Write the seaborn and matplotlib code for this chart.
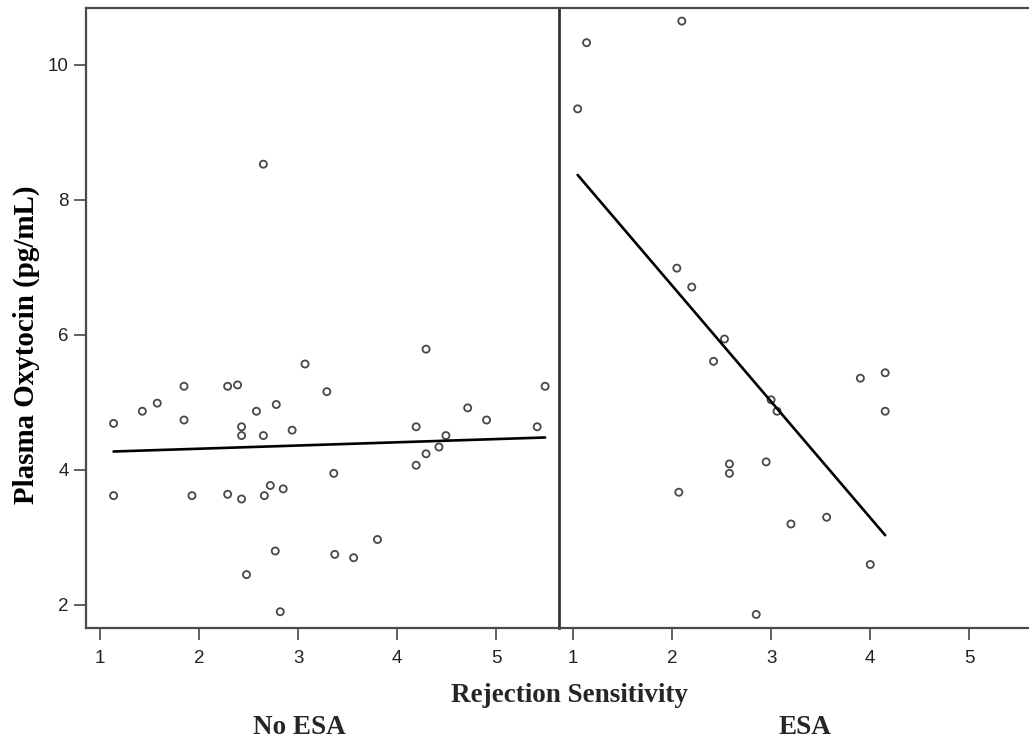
import numpy as np
import pandas as pd
import matplotlib
matplotlib.use("Agg")
import matplotlib.pyplot as plt
import seaborn as sns
from matplotlib import font_manager

# ---- data ----
no_esa_rs = [1.14, 1.14, 1.43, 1.58, 1.85, 1.85, 1.93, 2.29, 2.39, 2.29,
             2.43, 2.43, 2.43, 2.58, 2.65, 2.66, 2.72, 2.78, 2.85, 2.77,
             2.48, 2.82, 2.94, 3.07, 3.29, 3.36, 3.37, 3.56, 3.80, 4.19,
             4.19, 4.29, 4.29, 4.42, 4.49, 4.71, 4.90, 5.41, 5.49, 2.65]
no_esa_ot = [4.69, 3.62, 4.87, 4.99, 5.24, 4.74, 3.62, 5.24, 5.26, 3.64,
             4.64, 4.51, 3.57, 4.87, 4.51, 3.62, 3.77, 4.97, 3.72, 2.80,
             2.45, 1.90, 4.59, 5.57, 5.16, 3.95, 2.75, 2.70, 2.97, 4.64,
             4.07, 5.79, 4.24, 4.34, 4.51, 4.92, 4.74, 4.64, 5.24, 8.53]

esa_rs = [2.10, 1.14, 1.05, 2.05, 2.20, 2.53, 2.42, 3.00, 3.06, 3.90,
          4.15, 4.15, 2.58, 2.58, 2.95, 2.07, 3.20, 3.56, 4.00, 2.85]
esa_ot = [10.65, 10.33, 9.35, 6.99, 6.71, 5.94, 5.61, 5.04, 4.87, 5.36,
          5.44, 4.87, 4.09, 3.95, 4.12, 3.67, 3.20, 3.30, 2.60, 1.86]

groups = ["No ESA", "ESA"]
x_ticks = [1, 2, 3, 4, 5]
y_ticks = [2, 4, 6, 8, 10]

df = pd.DataFrame({
    "Rejection Sensitivity": no_esa_rs + esa_rs,
    "Plasma Oxytocin": no_esa_ot + esa_ot,
    "Group": [groups[0]] * len(no_esa_rs) + [groups[1]] * len(esa_rs),
})

sns.set_theme(style="white")
installed = {f.name for f in font_manager.fontManager.ttflist}
tick_family = "Liberation Sans Narrow" if "Liberation Sans Narrow" in installed else "Liberation Sans"
tick_size = 15.5 if tick_family == "Liberation Sans Narrow" else 13.5
plt.rcParams["font.family"] = [tick_family, "DejaVu Sans"]

W, H = 1029, 743
fig = plt.figure(figsize=(W / 100, H / 100), dpi=100)

bottom = 1 - 628 / H
top = 1 - 8 / H
ax_w = 472 / W
axL = fig.add_axes([86 / W, bottom, ax_w, top - bottom])
axR = fig.add_axes([559 / W, bottom, ax_w, top - bottom])

spine_col = "#4a4a4a"
for ax, g in zip([axL, axR], groups):
    sub = df[df["Group"] == g]
    sns.regplot(data=sub, x="Rejection Sensitivity", y="Plasma Oxytocin",
                ax=ax, ci=None, truncate=True,
                scatter_kws=dict(s=26, facecolors="none", edgecolors="#1a1a1a",
                                 linewidths=1.3, marker="o"),
                line_kws=dict(color="black", linewidth=1.9))
    ax.set_xlim(0.862, 5.62)
    ax.set_ylim(1.659, 10.844)
    ax.set_xlabel("")
    ax.set_ylabel("")
    ax.set_xticks(x_ticks)
    ax.set_xticklabels([str(t) for t in x_ticks])
    ax.tick_params(axis="x", direction="out", length=8.5, width=1.3,
                   color="#555555", pad=7, labelsize=tick_size, labelcolor="#222222")
    for s in ax.spines.values():
        s.set_color(spine_col)
        s.set_linewidth(1.6)

axL.set_yticks(y_ticks)
axL.set_yticklabels([str(t) for t in y_ticks])
axL.tick_params(axis="y", direction="out", length=8.5, width=1.3,
                color="#555555", pad=4, labelsize=tick_size, labelcolor="#222222")
axL.tick_params(axis="y", left=True)
axL.tick_params(axis="x", bottom=True)
axR.tick_params(axis="x", bottom=True)
axL.spines["right"].set_visible(False)
axR.spines["right"].set_visible(False)
axR.set_yticks([])
axR.spines["left"].set_color("#333333")
axR.spines["left"].set_linewidth(2.0)

serif = ["Liberation Serif", "DejaVu Serif"]
fig.text(26 / W, 1 - 345 / H, "Plasma Oxytocin (pg/mL)", rotation=90,
         ha="center", va="center", fontsize=20.9, fontweight="bold",
         family=serif, color="black")
fig.text(569 / W, 1 - 702 / H, "Rejection Sensitivity", ha="center",
         va="baseline", fontsize=19.5, fontweight="bold", family=serif)
fig.text(299.5 / W, 1 - 734 / H, "No ESA", ha="center", va="baseline",
         fontsize=19.5, fontweight="bold", family=serif)
fig.text(805 / W, 1 - 734 / H, "ESA", ha="center", va="baseline",
         fontsize=19.5, fontweight="bold", family=serif)

fig.savefig("out.png", dpi=100)
